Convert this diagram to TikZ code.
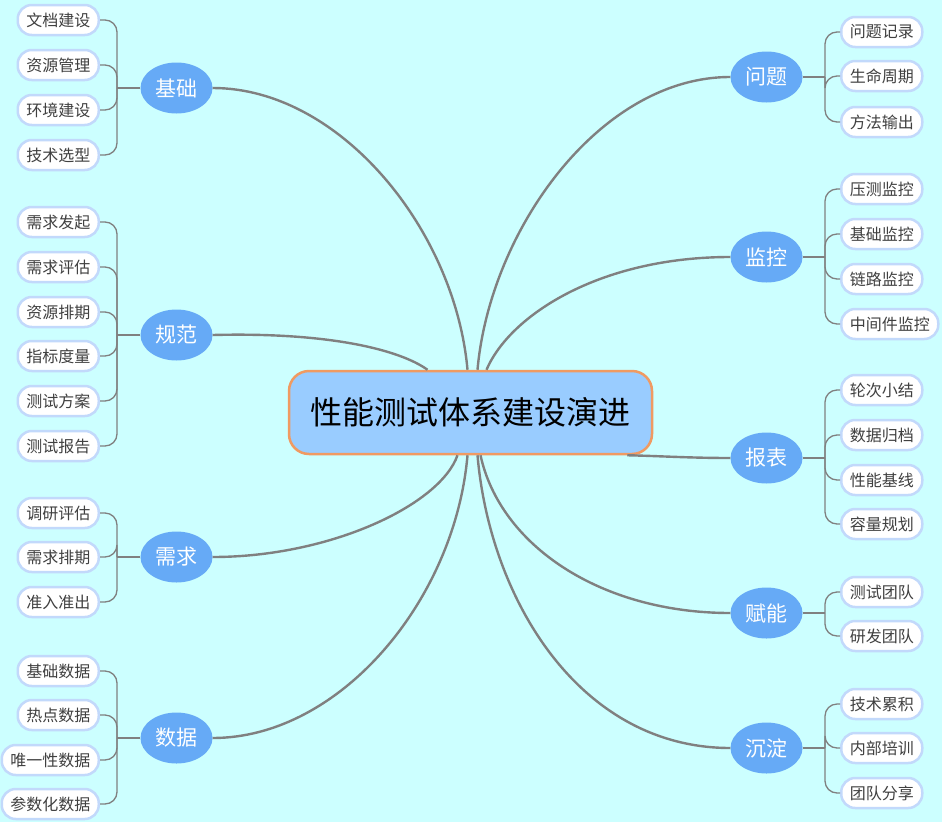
\documentclass[tikz,border=0pt]{standalone}
\usepackage{fontspec}
\setmainfont{Noto Sans CJK SC}
\usetikzlibrary{shapes.geometric}

\definecolor{hintergrund}{HTML}{CCFFFF}
\definecolor{kernfarbe}{HTML}{99CCFF}
\definecolor{kernrand}{HTML}{F09A62}
\definecolor{zweigfarbe}{HTML}{66AAF6}
\definecolor{blattrand}{HTML}{C2D9FB}
\definecolor{linie}{HTML}{808080}

\begin{document}
\begin{tikzpicture}[x=1pt,y=-1pt,
    kern/.style={draw=kernrand, fill=kernfarbe, line width=2.5pt, rounded corners=20pt,
      minimum width=363pt, minimum height=83pt, font=\fontsize{32}{32}\selectfont},
    zweig/.style={ellipse, fill=zweigfarbe, text=white, inner sep=0pt,
      minimum width=72pt, minimum height=51pt, font=\fontsize{21}{21}\selectfont},
    blatt/.style={draw=blattrand, fill=white, line width=2.5pt, rounded corners=14pt,
      minimum height=30pt, inner xsep=8.5pt, inner ysep=0pt, text=black!75,
      font=\fontsize{16}{16}\selectfont},
    dick/.style={draw=linie, line width=2.4pt},
    duenn/.style={draw=linie, line width=1.3pt, rounded corners=12pt}]

  % Hintergrund
  \fill[hintergrund] (0,0) rectangle (942,822);

  % Zentrum
  \node[kern] (kern) at (470.5,412.5) {性能测试体系建设演进};

  % Zweige links
  \node[zweig] (jichu) at (176.5,88) {基础};
  \node[zweig] (guifan) at (176.5,335) {规范};
  \node[zweig] (xuqiu) at (176.5,557) {需求};
  \node[zweig] (shuju) at (176.5,738) {数据};

  % Zweige rechts
  \node[zweig] (wenti) at (766.5,77) {问题};
  \node[zweig] (jiankong) at (766.5,257) {监控};
  \node[zweig] (baobiao) at (766.5,458) {报表};
  \node[zweig] (funeng) at (766.5,613) {赋能};
  \node[zweig] (chendian) at (766.5,748) {沉淀};

  % Verbindungen zum Zentrum
  \draw[dick] (jichu.east) .. controls (340,88) and (455,230) .. ([xshift=-3pt]kern.north);
  \draw[dick] (guifan.east) .. controls (330,332) and (400,350) .. ([xshift=-43pt]kern.north);
  \draw[dick] (xuqiu.east) .. controls (330,557) and (440,505) .. ([xshift=-13pt]kern.south);
  \draw[dick] (shuju.east) .. controls (340,738) and (455,600) .. ([xshift=-3pt]kern.south);
  \draw[dick] (wenti.west) .. controls (600,77) and (490,230) .. ([xshift=7pt]kern.north);
  \draw[dick] (jiankong.west) .. controls (600,257) and (510,315) .. ([xshift=16pt]kern.north);
  \draw[dick] (baobiao.west) .. controls (690,458) and (660,456) .. ([xshift=-26pt]kern.south east);
  \draw[dick] (funeng.west) .. controls (600,613) and (500,545) .. ([xshift=10pt]kern.south);
  \draw[dick] (chendian.west) .. controls (580,748) and (490,600) .. ([xshift=7pt]kern.south);

  % Blaetter links
  \foreach \ast/\ym/\liste in {jichu/88/{20/文档建设,65/资源管理,110/环境建设,155/技术选型},
      guifan/335/{222/需求发起,267/需求评估,312/资源排期,356/指标度量,401/测试方案,446/测试报告},
      xuqiu/557/{513/调研评估,557/需求排期,602/准入准出},
      shuju/738/{671/基础数据,715/热点数据,760/唯一性数据,804/参数化数据}}{
    \coordinate (\ast-k) at (117,\ym);
    \draw[duenn] (\ast.west) -- (\ast-k);
    \foreach \y/\t [count=\i] in \liste {
      \node[blatt, anchor=east] (\ast-\i) at (100,\y) {\t};
      \draw[duenn] (\ast-k) |- (\ast-\i.east);
    }
  }

  % Blaetter rechts
  \foreach \ast/\ym/\liste in {wenti/77/{32/问题记录,76/生命周期,122/方法输出},
      jiankong/257/{189/压测监控,234/基础监控,279/链路监控,324/中间件监控},
      baobiao/458/{390/轮次小结,435/数据归档,480/性能基线,524/容量规划},
      funeng/613/{592/测试团队,636/研发团队},
      chendian/748/{704/技术累积,748/内部培训,793/团队分享}}{
    \coordinate (\ast-k) at (825,\ym);
    \draw[duenn] (\ast.east) -- (\ast-k);
    \foreach \y/\t [count=\i] in \liste {
      \node[blatt, anchor=west] (\ast-\i) at (840,\y) {\t};
      \draw[duenn] (\ast-k) |- (\ast-\i.west);
    }
  }

\end{tikzpicture}
\end{document}
